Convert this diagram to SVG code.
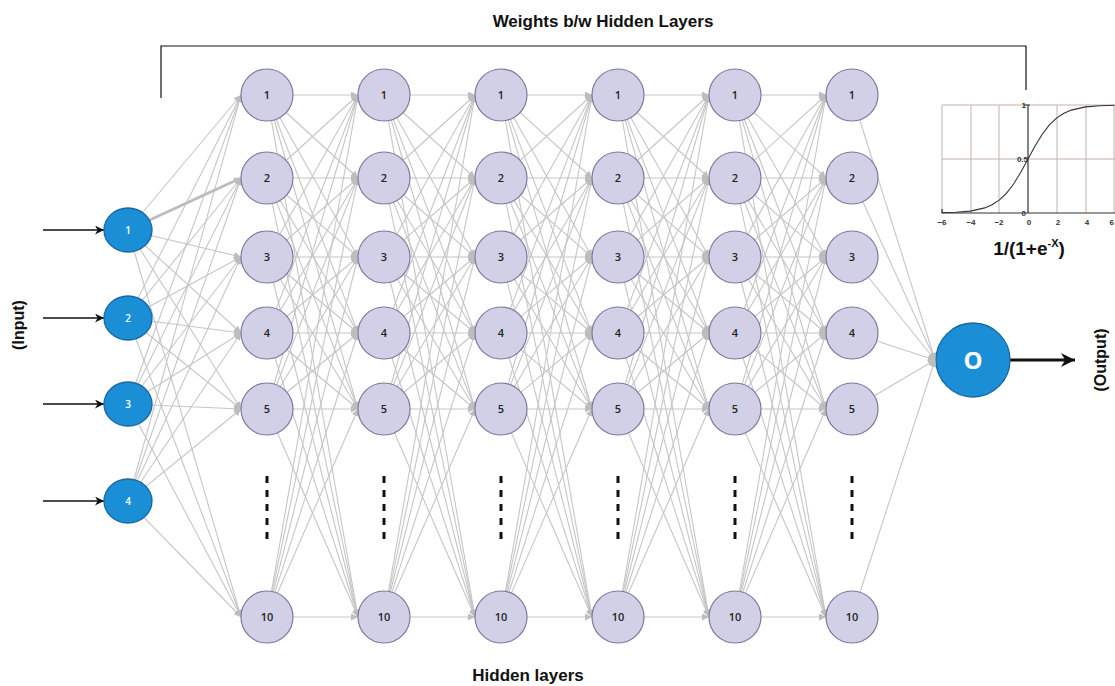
<svg xmlns="http://www.w3.org/2000/svg" width="1115" height="686" viewBox="0 0 1115 686">
<style>
.w line{stroke:#c6c6c6;stroke-width:1.1;marker-end:url(#ah)}
.h circle{fill:#d2d0e6;stroke:#7c789f;stroke-width:1.2}
.h text{font-family:"Open Sans","DejaVu Sans",sans-serif;font-size:11px;font-weight:600;fill:#222;text-anchor:middle}
.in ellipse{fill:#1b8fd6;stroke:#1767a3;stroke-width:1.3}
.in text{font-family:"Open Sans","DejaVu Sans",sans-serif;font-size:10px;font-weight:600;fill:#fff;text-anchor:middle}
.lbl{font-family:"Liberation Sans",Arial,sans-serif;font-weight:bold;fill:#111;text-anchor:middle}
.dash{stroke:#111;stroke-width:3;stroke-dasharray:7 7}
.blk{stroke:#111;stroke-width:1.3;marker-end:url(#bh)}
.grid{stroke:#c4b2ab;stroke-width:1;fill:none}
.tick{font-family:"Liberation Sans",Arial,sans-serif;font-size:8px;font-weight:bold;fill:#333}
</style>
<defs>
<marker id="ah" viewBox="0 0 10 10" refX="10" refY="5" markerWidth="8" markerHeight="7" markerUnits="userSpaceOnUse" orient="auto"><path d="M0,0 L10,5 L0,10 z" fill="#bdbdbd"/></marker>
<marker id="bh" viewBox="0 0 10 10" refX="10" refY="5" markerWidth="10" markerHeight="9" markerUnits="userSpaceOnUse" orient="auto"><path d="M0,0 L10,5 L0,10 L3,5 z" fill="#111"/></marker>
<marker id="bh2" viewBox="0 0 10 10" refX="10" refY="5" markerWidth="16" markerHeight="14" markerUnits="userSpaceOnUse" orient="auto"><path d="M0,0 L10,5 L0,10 L3,5 z" fill="#111"/></marker>
<g id="fc" class="w">
<line x1="0" y1="95" x2="91" y2="95"/><line x1="0" y1="95" x2="91" y2="178"/><line x1="0" y1="95" x2="91" y2="257"/><line x1="0" y1="95" x2="91" y2="333"/><line x1="0" y1="95" x2="91" y2="409"/><line x1="0" y1="95" x2="91" y2="617"/>
<line x1="0" y1="178" x2="91" y2="95"/><line x1="0" y1="178" x2="91" y2="178"/><line x1="0" y1="178" x2="91" y2="257"/><line x1="0" y1="178" x2="91" y2="333"/><line x1="0" y1="178" x2="91" y2="409"/><line x1="0" y1="178" x2="91" y2="617"/>
<line x1="0" y1="257" x2="91" y2="95"/><line x1="0" y1="257" x2="91" y2="178"/><line x1="0" y1="257" x2="91" y2="257"/><line x1="0" y1="257" x2="91" y2="333"/><line x1="0" y1="257" x2="91" y2="409"/><line x1="0" y1="257" x2="91" y2="617"/>
<line x1="0" y1="333" x2="91" y2="95"/><line x1="0" y1="333" x2="91" y2="178"/><line x1="0" y1="333" x2="91" y2="257"/><line x1="0" y1="333" x2="91" y2="333"/><line x1="0" y1="333" x2="91" y2="409"/><line x1="0" y1="333" x2="91" y2="617"/>
<line x1="0" y1="409" x2="91" y2="95"/><line x1="0" y1="409" x2="91" y2="178"/><line x1="0" y1="409" x2="91" y2="257"/><line x1="0" y1="409" x2="91" y2="333"/><line x1="0" y1="409" x2="91" y2="409"/><line x1="0" y1="409" x2="91" y2="617"/>
<line x1="0" y1="617" x2="91" y2="95"/><line x1="0" y1="617" x2="91" y2="178"/><line x1="0" y1="617" x2="91" y2="257"/><line x1="0" y1="617" x2="91" y2="333"/><line x1="0" y1="617" x2="91" y2="409"/><line x1="0" y1="617" x2="91" y2="617"/>
</g>
<clipPath id="chartclip"><rect x="930" y="95" width="185" height="140"/></clipPath>
</defs>
<rect width="1115" height="686" fill="#fff"/>

<!-- bracket and labels -->
<path d="M161,98 V46 H1026 V90" fill="none" stroke="#111" stroke-width="1.2"/>
<text class="lbl" x="603" y="27" font-size="17">Weights b/w Hidden Layers</text>
<text class="lbl" x="528" y="681" font-size="17">Hidden layers</text>
<text class="lbl" font-size="16" transform="translate(24,325) rotate(-90)">(Input)</text>
<text class="lbl" font-size="16" transform="translate(1106,360) rotate(-90)">(Output)</text>

<!-- sigmoid chart -->
<g id="sigmoid">
<g clip-path="url(#chartclip)">
<path class="grid" d="M942,105 H1115 M942,159 H1115 M971,105 V213 M999,105 V213 M1057,105 V213 M1086,105 V213 M1114,105 V213 M942,105 V213"/>
<path d="M942,213 H1115 M1028,105 V213 M942,209 V213 M1024,105 H1030" stroke="#333" stroke-width="1.2" fill="none"/>
<path d="M941.6,212.7 L956,212.3 L970.4,211.1 L984.8,207.9 L992,204.8 L999.2,200.1 L1006.4,193.3 L1013.6,184 L1020.8,172.2 L1028,159 L1035.2,145.8 L1042.4,134 L1049.6,124.7 L1056.8,117.9 L1064,113.2 L1071.2,110.1 L1085.6,106.9 L1100,105.7 L1114.4,105.3" fill="none" stroke="#333" stroke-width="1.1"/>
</g>
<text class="tick" x="942" y="225" text-anchor="middle">−6</text>
<text class="tick" x="971" y="225" text-anchor="middle">−4</text>
<text class="tick" x="999" y="225" text-anchor="middle">−2</text>
<text class="tick" x="1029" y="225" text-anchor="middle">0</text>
<text class="tick" x="1058" y="225" text-anchor="middle">2</text>
<text class="tick" x="1087" y="225" text-anchor="middle">4</text>
<text class="tick" x="1114" y="225" text-anchor="end">6</text>
<text class="tick" x="1026" y="108" text-anchor="end">1</text>
<text class="tick" x="1028" y="162" text-anchor="end">0.5</text>
<text class="tick" x="1026" y="216" text-anchor="end">0</text>
</g>
<text class="lbl" x="1029" y="255" font-size="19">1/(1+e<tspan font-size="11" dy="-8">-X</tspan><tspan dy="8">)</tspan></text>

<!-- connectors -->
<g id="connectors">
<g class="w">
<line x1="128" y1="230" x2="241" y2="95"/><line x1="128" y1="230" x2="241" y2="257"/><line x1="128" y1="230" x2="241" y2="333"/><line x1="128" y1="230" x2="241" y2="409"/><line x1="128" y1="230" x2="241" y2="617"/>
<line x1="128" y1="318" x2="241" y2="95"/><line x1="128" y1="318" x2="241" y2="178"/><line x1="128" y1="318" x2="241" y2="257"/><line x1="128" y1="318" x2="241" y2="333"/><line x1="128" y1="318" x2="241" y2="409"/><line x1="128" y1="318" x2="241" y2="617"/>
<line x1="128" y1="404" x2="241" y2="95"/><line x1="128" y1="404" x2="241" y2="178"/><line x1="128" y1="404" x2="241" y2="257"/><line x1="128" y1="404" x2="241" y2="333"/><line x1="128" y1="404" x2="241" y2="409"/><line x1="128" y1="404" x2="241" y2="617"/>
<line x1="128" y1="501" x2="241" y2="95"/><line x1="128" y1="501" x2="241" y2="178"/><line x1="128" y1="501" x2="241" y2="257"/><line x1="128" y1="501" x2="241" y2="333"/><line x1="128" y1="501" x2="241" y2="409"/><line x1="128" y1="501" x2="241" y2="617"/>
<line x1="128" y1="230" x2="241" y2="178" style="stroke:#bdbdbd;stroke-width:3"/>
</g>
<use href="#fc" x="267"/>
<use href="#fc" x="384"/>
<use href="#fc" x="501"/>
<use href="#fc" x="618"/>
<use href="#fc" x="735"/>
<g class="w">
<line x1="852" y1="95" x2="935" y2="360"/><line x1="852" y1="178" x2="935" y2="360"/><line x1="852" y1="257" x2="935" y2="360"/><line x1="852" y1="333" x2="935" y2="360"/><line x1="852" y1="409" x2="935" y2="360"/><line x1="852" y1="617" x2="935" y2="360"/>
</g>
<line class="blk" x1="43" y1="230" x2="104" y2="230"/>
<line class="blk" x1="43" y1="318" x2="104" y2="318"/>
<line class="blk" x1="43" y1="404" x2="104" y2="404"/>
<line class="blk" x1="43" y1="501" x2="104" y2="501"/>
<line x1="1010" y1="360" x2="1075" y2="360" stroke="#111" stroke-width="3" marker-end="url(#bh2)"/>
</g>

<!-- dashes -->
<g id="ellipsis">
<line class="dash" x1="267" y1="476" x2="267" y2="546"/>
<line class="dash" x1="384" y1="476" x2="384" y2="546"/>
<line class="dash" x1="501" y1="476" x2="501" y2="546"/>
<line class="dash" x1="618" y1="476" x2="618" y2="546"/>
<line class="dash" x1="735" y1="476" x2="735" y2="546"/>
<line class="dash" x1="852" y1="476" x2="852" y2="546"/>
</g>

<!-- input nodes -->
<g id="in1" class="in"><ellipse cx="128" cy="230" rx="24" ry="22"/><text x="128" y="234">1</text></g>
<g id="in2" class="in"><ellipse cx="128" cy="318" rx="24" ry="22"/><text x="128" y="322">2</text></g>
<g id="in3" class="in"><ellipse cx="128" cy="404" rx="24" ry="22"/><text x="128" y="408">3</text></g>
<g id="in4" class="in"><ellipse cx="128" cy="501" rx="24" ry="22"/><text x="128" y="505">4</text></g>

<!-- hidden layer 1 -->
<g id="h1_1" class="h"><circle cx="267" cy="95" r="26"/><text x="267" y="99">1</text></g>
<g id="h1_2" class="h"><circle cx="267" cy="178" r="26"/><text x="267" y="182">2</text></g>
<g id="h1_3" class="h"><circle cx="267" cy="257" r="26"/><text x="267" y="261">3</text></g>
<g id="h1_4" class="h"><circle cx="267" cy="333" r="26"/><text x="267" y="337">4</text></g>
<g id="h1_5" class="h"><circle cx="267" cy="409" r="26"/><text x="267" y="413">5</text></g>
<g id="h1_10" class="h"><circle cx="267" cy="617" r="26"/><text x="267" y="621">10</text></g>
<!-- hidden layer 2 -->
<g id="h2_1" class="h"><circle cx="384" cy="95" r="26"/><text x="384" y="99">1</text></g>
<g id="h2_2" class="h"><circle cx="384" cy="178" r="26"/><text x="384" y="182">2</text></g>
<g id="h2_3" class="h"><circle cx="384" cy="257" r="26"/><text x="384" y="261">3</text></g>
<g id="h2_4" class="h"><circle cx="384" cy="333" r="26"/><text x="384" y="337">4</text></g>
<g id="h2_5" class="h"><circle cx="384" cy="409" r="26"/><text x="384" y="413">5</text></g>
<g id="h2_10" class="h"><circle cx="384" cy="617" r="26"/><text x="384" y="621">10</text></g>
<!-- hidden layer 3 -->
<g id="h3_1" class="h"><circle cx="501" cy="95" r="26"/><text x="501" y="99">1</text></g>
<g id="h3_2" class="h"><circle cx="501" cy="178" r="26"/><text x="501" y="182">2</text></g>
<g id="h3_3" class="h"><circle cx="501" cy="257" r="26"/><text x="501" y="261">3</text></g>
<g id="h3_4" class="h"><circle cx="501" cy="333" r="26"/><text x="501" y="337">4</text></g>
<g id="h3_5" class="h"><circle cx="501" cy="409" r="26"/><text x="501" y="413">5</text></g>
<g id="h3_10" class="h"><circle cx="501" cy="617" r="26"/><text x="501" y="621">10</text></g>
<!-- hidden layer 4 -->
<g id="h4_1" class="h"><circle cx="618" cy="95" r="26"/><text x="618" y="99">1</text></g>
<g id="h4_2" class="h"><circle cx="618" cy="178" r="26"/><text x="618" y="182">2</text></g>
<g id="h4_3" class="h"><circle cx="618" cy="257" r="26"/><text x="618" y="261">3</text></g>
<g id="h4_4" class="h"><circle cx="618" cy="333" r="26"/><text x="618" y="337">4</text></g>
<g id="h4_5" class="h"><circle cx="618" cy="409" r="26"/><text x="618" y="413">5</text></g>
<g id="h4_10" class="h"><circle cx="618" cy="617" r="26"/><text x="618" y="621">10</text></g>
<!-- hidden layer 5 -->
<g id="h5_1" class="h"><circle cx="735" cy="95" r="26"/><text x="735" y="99">1</text></g>
<g id="h5_2" class="h"><circle cx="735" cy="178" r="26"/><text x="735" y="182">2</text></g>
<g id="h5_3" class="h"><circle cx="735" cy="257" r="26"/><text x="735" y="261">3</text></g>
<g id="h5_4" class="h"><circle cx="735" cy="333" r="26"/><text x="735" y="337">4</text></g>
<g id="h5_5" class="h"><circle cx="735" cy="409" r="26"/><text x="735" y="413">5</text></g>
<g id="h5_10" class="h"><circle cx="735" cy="617" r="26"/><text x="735" y="621">10</text></g>
<!-- hidden layer 6 -->
<g id="h6_1" class="h"><circle cx="852" cy="95" r="26"/><text x="852" y="99">1</text></g>
<g id="h6_2" class="h"><circle cx="852" cy="178" r="26"/><text x="852" y="182">2</text></g>
<g id="h6_3" class="h"><circle cx="852" cy="257" r="26"/><text x="852" y="261">3</text></g>
<g id="h6_4" class="h"><circle cx="852" cy="333" r="26"/><text x="852" y="337">4</text></g>
<g id="h6_5" class="h"><circle cx="852" cy="409" r="26"/><text x="852" y="413">5</text></g>
<g id="h6_10" class="h"><circle cx="852" cy="617" r="26"/><text x="852" y="621">10</text></g>

<!-- output node -->
<g id="out"><circle cx="973" cy="360" r="37" fill="#1b8fd6" stroke="#1767a3" stroke-width="1.3"/><text x="973" y="369" font-family="'Open Sans','DejaVu Sans',sans-serif" font-size="24" font-weight="bold" fill="#fff" text-anchor="middle">O</text></g>
</svg>
